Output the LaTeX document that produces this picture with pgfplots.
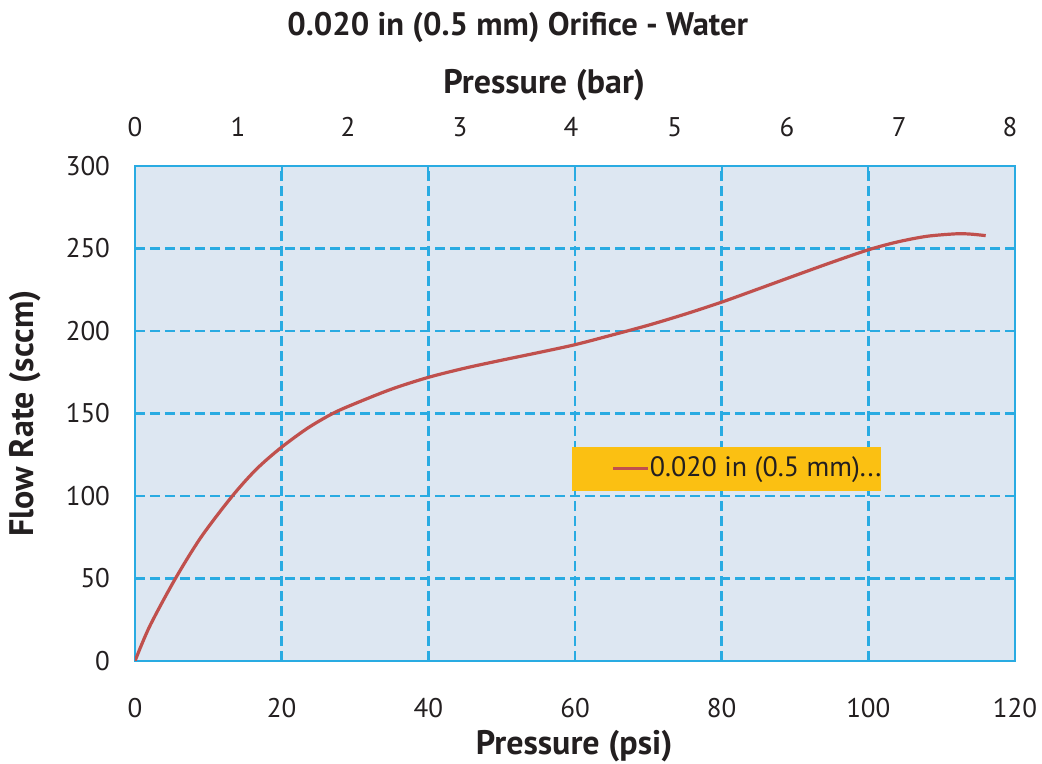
\documentclass[border=0pt]{standalone}
\usepackage{pgfplots}
\pgfplotsset{compat=1.18}
\usepackage{fontspec}
\setmainfont{PT Sans}
\definecolor{bgblue}{HTML}{DDE7F2}
\definecolor{gridblue}{HTML}{29ABE2}
\definecolor{curvered}{HTML}{C0504D}
\definecolor{legyellow}{HTML}{FBC012}
\definecolor{txt}{HTML}{231F20}
\begin{document}
\begin{tikzpicture}
\begin{axis}[
  name=ax,
  scale only axis, width=440pt, height=247.5pt,
  xmin=0, xmax=120, ymin=0, ymax=300,
  xtick={0,20,...,120}, ytick={0,50,...,300},
  grid=major,
  grid style={dash pattern=on 5pt off 2.5pt, color=gridblue, line width=1.2pt},
  axis line style={gridblue, line width=1.3pt},
  axis background/.style={fill=bgblue},
  tick style={gridblue, line width=1pt},
  major tick length=4pt,
  tick align=inside,
  /pgf/number format/assume math mode=true,
  ticklabel style={font=\fontsize{13.5}{16}\selectfont, text=txt},
  yticklabel style={xshift=-9pt},
  xticklabel style={yshift=-15pt},
  xlabel={Pressure (psi)},
  ylabel={Flow Rate (sccm)},
  label style={font=\fontsize{17}{20}\selectfont\bfseries, text=txt},
  xlabel style={at={(axis description cs:0.499,-0.172)}, anchor=center},
  ylabel style={at={(axis description cs:-0.125,0.5)}, anchor=center},
  title={0.020 in (0.5 mm) Orifice - Water},
  title style={at={(axis description cs:0.435,1.255)}, anchor=center, font=\fontsize{16.3}{19}\selectfont\bfseries, text=txt},
  legend style={at={(rel axis cs:0.4966,0.434)}, anchor=north west, fill=legyellow, draw=none,
    inner xsep=0pt, inner ysep=3.25pt, font=\fontsize{14}{16}\selectfont, text=txt,
    nodes={inner xsep=0pt}},
  legend image code/.code={\path[draw=none] (0pt,0pt) -- (38.7pt,0pt); \draw[#1, line width=1.5pt] (20.5pt,0pt) -- (38pt,0pt);},
  legend cell align=left,
]
\addplot[curvered, line width=1.6pt, smooth, tension=0.5] coordinates {
(0,0) (2,21) (5.45,49.5) (9,75) (13.2,99.6) (16.5,116) (19.8,128.9) (23.5,141)
(27,150.1) (30,156.0) (35,164.8) (40,171.9) (45,177.5) (50,182.3) (55,186.9)
(60,191.7) (65,197.5) (70,203.5) (75,210.2) (80,217.5) (85,225.5) (90,233.6)
(95,241.6) (100,249.2) (104,254.0) (108,257.4) (112,258.9) (114,258.7) (116,257.8)
};
\addlegendentry{0.020 in (0.5 mm)...\hspace{-2.5pt}}
\end{axis}
\begin{axis}[
  scale only axis, width=440pt, height=247.5pt,
  xmin=0, xmax=120, ymin=0, ymax=300,
  axis x line*=top, hide y axis,
  axis line style={draw=none},
  xtick={0,14.05,29.05,44.3,59.45,73.6,88.9,104.2,119.3},
  xticklabels={0,1,2,3,4,5,6,7,8},
  major tick length=0pt,
  /pgf/number format/assume math mode=true,
  ticklabel style={font=\fontsize{13.5}{16}\selectfont, text=txt},
  xticklabel style={yshift=11pt},
  xlabel={Pressure (bar)},
  xlabel style={at={(axis description cs:0.465,1.164)}, anchor=center, font=\fontsize{17}{20}\selectfont\bfseries, text=txt},
]
\addplot[draw=none] coordinates {(0,0)};
\end{axis}
\pgfresetboundingbox
\path ([shift={(-67.5pt,-51.5pt)}]ax.south west) rectangle ([shift={(13.5pt,83pt)}]ax.north east);
\end{tikzpicture}
\end{document}
